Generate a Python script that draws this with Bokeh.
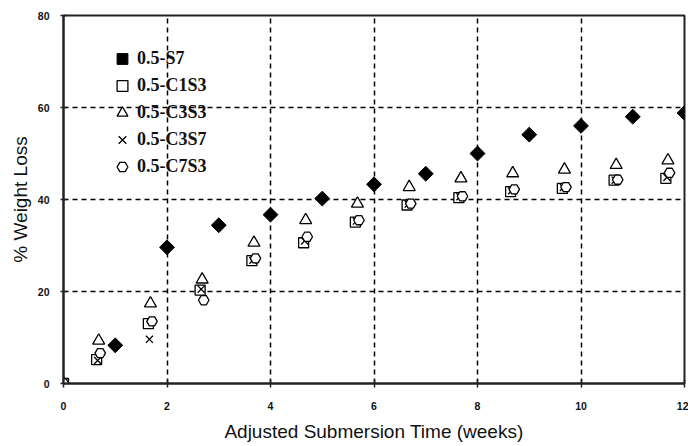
import math

from bokeh.embed import file_html
from bokeh.models import Legend, LegendItem, FixedTicker
from bokeh.plotting import figure
from bokeh.resources import INLINE

# Weight loss (%) against adjusted submersion time (weeks)
s7_weeks = [1, 2, 3, 4, 5, 6, 7, 8, 9, 10, 11, 12]
s7_loss = [8.3, 29.6, 34.4, 36.7, 40.2, 43.3, 45.6, 50.0, 54.1, 56.0, 58.0, 58.8]

c1s3_weeks = [0, 0.64, 1.64, 2.64, 3.64, 4.64, 5.64, 6.64, 7.64, 8.64, 9.64, 10.64, 11.64]
c1s3_loss = [0, 5.2, 13.0, 20.3, 26.7, 30.6, 35.1, 38.8, 40.4, 41.7, 42.4, 44.2, 44.6]

c3s3_weeks = [0, 0.68, 1.68, 2.68, 3.68, 4.68, 5.68, 6.68, 7.68, 8.68, 9.68, 10.68, 11.68]
c3s3_loss = [0, 9.3, 17.4, 22.6, 30.6, 35.5, 39.1, 42.7, 44.6, 45.7, 46.5, 47.5, 48.5]

c3s7_weeks = [0, 0.66, 1.66, 2.66, 3.66, 4.66, 5.66, 6.66, 7.66, 8.66, 9.66, 10.66, 11.66]
c3s7_loss = [0, 5.0, 9.6, 20.5, 26.8, 31.0, 35.3, 39.0, 40.6, 41.9, 42.6, 44.2, 44.8]

c7s3_weeks = [0, 0.71, 1.71, 2.71, 3.71, 4.71, 5.71, 6.71, 7.71, 8.71, 9.71, 10.71, 11.71]
c7s3_loss = [0, 6.6, 13.5, 18.1, 27.2, 31.9, 35.5, 39.1, 40.7, 42.2, 42.7, 44.3, 45.8]

x_ticks = [0, 2, 4, 6, 8, 10, 12]
y_ticks = [0, 20, 40, 60, 80]

p = figure(
    width=688, height=446,
    x_range=(0, 12), y_range=(0, 80),
    output_backend="svg", toolbar_location=None,
    min_border_left=63, min_border_right=4,
    min_border_top=15, min_border_bottom=63,
    background_fill_color="white", border_fill_color="white",
)

p.outline_line_color = "#222222"
p.outline_line_width = 2

# axes
for ax in (p.xaxis[0], p.yaxis[0]):
    ax.axis_line_color = "#222222"
    ax.axis_line_width = 2
    ax.major_tick_line_color = "#222222"
    ax.major_tick_line_width = 1.5
    ax.minor_tick_line_color = None
    ax.major_label_text_font = "Liberation Sans"
    ax.major_label_text_font_style = "bold"
    ax.major_label_text_font_size = "10.5px"
    ax.major_label_text_color = "#111111"
    ax.axis_label_text_font = "Liberation Sans"
    ax.axis_label_text_font_style = "normal"
    ax.axis_label_text_font_size = "19px"
    ax.axis_label_text_color = "#111111"

p.xaxis.ticker = FixedTicker(ticks=x_ticks)
p.yaxis.ticker = FixedTicker(ticks=y_ticks)
p.xaxis.major_tick_in = 4
p.xaxis.major_tick_out = 4
p.yaxis.major_tick_in = 3
p.yaxis.major_tick_out = 3
p.xaxis.major_label_standoff = 14
p.yaxis.major_label_standoff = 11
p.xaxis.axis_label = "Adjusted Submersion Time (weeks)"
p.yaxis.axis_label = "% Weight Loss"
p.xaxis.axis_label_standoff = 8
p.yaxis.axis_label_standoff = 4

# dashed grid
for g in (p.xgrid[0], p.ygrid[0]):
    g.grid_line_color = "black"
    g.grid_line_width = 1.5
    g.grid_line_dash = "5 4"
p.xgrid.ticker = FixedTicker(ticks=[2, 4, 6, 8, 10])
p.ygrid.ticker = FixedTicker(ticks=[20, 40, 60])

open_style = dict(line_color="black", line_width=1.3, fill_color="white")

# filled diamonds: squares turned by 45 degrees
r_s7 = p.scatter(s7_weeks, s7_loss, marker="square", angle=math.pi / 4,
                 size=10.5, line_color="black", fill_color="black")
r_c1s3 = p.scatter(c1s3_weeks, c1s3_loss, marker="square", size=10, **open_style)
r_c3s3 = p.scatter(c3s3_weeks, c3s3_loss, marker="triangle", size=12, **open_style)
r_c3s7 = p.scatter(c3s7_weeks, c3s7_loss, marker="x", size=10,
                   line_color="black", line_width=1.3)
r_c7s3 = p.scatter(c7s3_weeks, c7s3_loss, marker="hex", size=10.5, **open_style)

legend = Legend(
    items=[
        LegendItem(label="0.5-S7", renderers=[r_s7]),
        LegendItem(label="0.5-C1S3", renderers=[r_c1s3]),
        LegendItem(label="0.5-C3S3", renderers=[r_c3s3]),
        LegendItem(label="0.5-C3S7", renderers=[r_c3s7]),
        LegendItem(label="0.5-C7S3", renderers=[r_c7s3]),
    ],
    location=(44, 203),
    orientation="vertical",
    glyph_width=30, glyph_height=27,
    label_height=27, spacing=0, padding=0, margin=0,
    label_standoff=-4,
    label_text_font="Liberation Serif",
    label_text_font_style="bold",
    label_text_font_size="18px",
    label_text_color="#111111",
    border_line_color=None,
    background_fill_alpha=0,
)
p.add_layout(legend, "center")

open("out.html", "w").write(file_html(p, INLINE))
